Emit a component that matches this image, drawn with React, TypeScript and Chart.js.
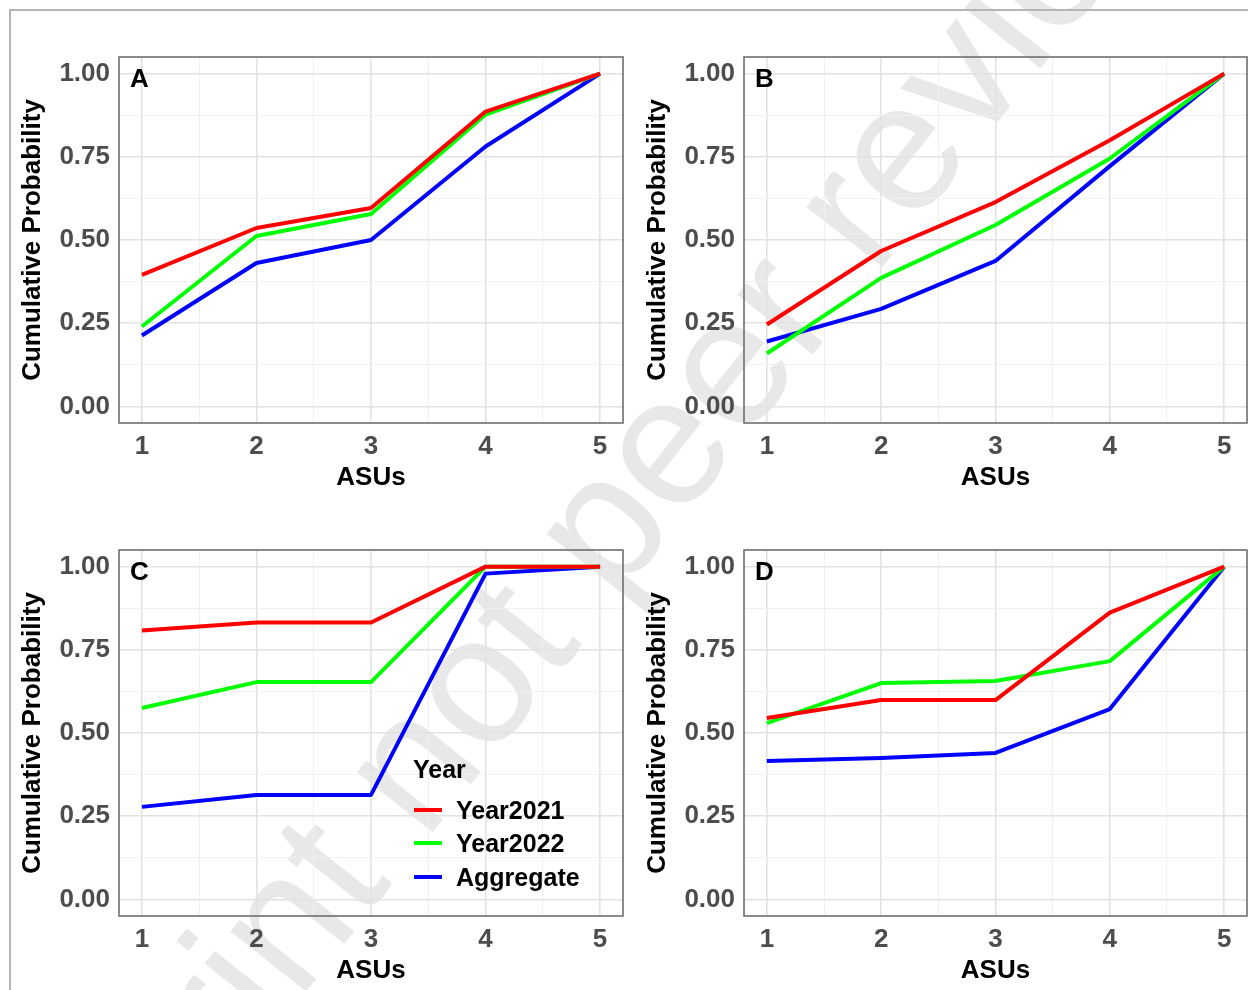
import React, { useEffect, useRef } from "react";
import { Chart, registerables } from "chart.js";

Chart.register(...registerables);

// ---------- data ----------
const ASUS = [1, 2, 3, 4, 5];
const X_MINOR = [1.5, 2.5, 3.5, 4.5];
const Y_MAJOR = [0, 0.25, 0.5, 0.75, 1];
const Y_MINOR = [0.125, 0.375, 0.625, 0.875];
const SERIES_NAMES = ["Year2021", "Year2022", "Aggregate"];
const SERIES_COLORS = ["#ff0000", "#00ff00", "#0000ff"];
const LEGEND_TITLE = "Year";
const X_TITLE = "ASUs";
const Y_TITLE = "Cumulative Probability";
const WATERMARK = "Preprint not peer reviewed";

const A_2021 = [0.395, 0.536, 0.596, 0.886, 1.0];
const A_2022 = [0.24, 0.512, 0.578, 0.877, 1.0];
const A_AGG = [0.213, 0.431, 0.5, 0.781, 1.0];

const B_2021 = [0.246, 0.467, 0.614, 0.8, 1.0];
const B_2022 = [0.159, 0.386, 0.545, 0.745, 1.0];
const B_AGG = [0.195, 0.293, 0.437, 0.722, 1.0];

const C_2021 = [0.808, 0.832, 0.832, 1.0, 1.0];
const C_2022 = [0.575, 0.653, 0.653, 1.0, 1.0];
const C_AGG = [0.278, 0.314, 0.314, 0.979, 1.0];

const D_2021 = [0.545, 0.599, 0.599, 0.862, 1.0];
const D_2022 = [0.53, 0.65, 0.656, 0.716, 1.0];
const D_AGG = [0.416, 0.425, 0.44, 0.572, 1.0];

// ---------- layout ----------
const FONT = '"Liberation Sans", Arial, sans-serif';
const PANELS = [
  { letter: "A", series: [A_2021, A_2022, A_AGG], left: 0, top: 40, width: 630, padRight: 7 },
  { letter: "B", series: [B_2021, B_2022, B_AGG], left: 625, top: 40, width: 623, padRight: 1 },
  { letter: "C", series: [C_2021, C_2022, C_AGG], left: 0, top: 533, width: 630, padRight: 7 },
  { letter: "D", series: [D_2021, D_2022, D_AGG], left: 625, top: 533, width: 623, padRight: 1 },
];

const framePlugin = (letter: string) => ({
  id: "frame" + letter,
  afterDraw(chart: any) {
    const { ctx, chartArea: a } = chart;
    ctx.save();
    ctx.strokeStyle = "#6e6e6e";
    ctx.lineWidth = 1.6;
    ctx.strokeRect(a.left, a.top, a.right - a.left, a.bottom - a.top);
    ctx.fillStyle = "#000";
    ctx.font = `bold 26px ${FONT}`;
    ctx.textBaseline = "alphabetic";
    ctx.textAlign = "left";
    ctx.fillText(letter, a.left + 11, a.top + 30);
    ctx.restore();
  },
});

function Panel(props: any) {
  const { letter, series, left, top, width, padRight } = props;
  const ref = useRef<HTMLCanvasElement>(null);
  useEffect(() => {
    const tickFont = { family: FONT, size: 26, weight: "bold" as const, lineHeight: 1 };
    const chart = new Chart(ref.current!, {
      type: "line",
      data: {
        datasets: series.map((vals: number[], i: number) => ({
          label: SERIES_NAMES[i],
          data: ASUS.map((x, j) => ({ x, y: vals[j] })),
          borderColor: SERIES_COLORS[i],
          backgroundColor: SERIES_COLORS[i],
          borderWidth: 4,
          pointRadius: 0,
          tension: 0,
          fill: false,
          borderJoinStyle: "round",
        })),
      },
      options: {
        responsive: false,
        animation: false,
        events: [],
        layout: { padding: { left: 0, top: 17, right: padRight, bottom: 0 } },
        plugins: { legend: { display: false }, tooltip: { enabled: false } },
        scales: {
          x: {
            type: "linear",
            min: 0.8,
            max: 5.2,
            afterBuildTicks: (s: any) => {
              s.ticks = [...ASUS, ...X_MINOR].sort((a, b) => a - b).map((v) => ({ value: v }));
            },
            afterFit: (s: any) => {
              s.height = 77;
              s.paddingLeft = 0;
              s.paddingRight = 0;
            },
            border: { display: false },
            grid: {
              drawTicks: false,
              color: (c: any) => (c.tick && Number.isInteger(c.tick.value) ? "#e2e2e2" : "#f0f0f0"),
              lineWidth: (c: any) => (c.tick && Number.isInteger(c.tick.value) ? 1.6 : 1),
            },
            ticks: {
              autoSkip: false,
              maxRotation: 0,
              padding: 11,
              color: "#4d4d4d",
              font: tickFont,
              callback: (v: any) => (ASUS.includes(v) ? String(v) : ""),
            },
            title: {
              display: true,
              text: X_TITLE,
              color: "#000",
              font: tickFont,
              padding: { top: 0, bottom: 9 },
            },
          },
          y: {
            type: "linear",
            min: -0.05,
            max: 1.05,
            afterBuildTicks: (s: any) => {
              s.ticks = [...Y_MAJOR, ...Y_MINOR].sort((a, b) => a - b).map((v) => ({ value: v }));
            },
            afterFit: (s: any) => {
              s.width = 119;
              s.paddingTop = 0;
              s.paddingBottom = 0;
            },
            border: { display: false },
            grid: {
              drawTicks: false,
              color: (c: any) => (c.tick && Y_MAJOR.includes(c.tick.value) ? "#e2e2e2" : "#f0f0f0"),
              lineWidth: (c: any) => (c.tick && Y_MAJOR.includes(c.tick.value) ? 1.6 : 1),
            },
            ticks: {
              autoSkip: false,
              padding: 9,
              color: "#4d4d4d",
              font: tickFont,
              callback: (v: any) => (Y_MAJOR.includes(v) ? Number(v).toFixed(2) : ""),
            },
            title: {
              display: true,
              text: Y_TITLE,
              color: "#000",
              font: tickFont,
              padding: { top: 20, bottom: 0 },
            },
          },
        },
      },
      plugins: [framePlugin(letter)],
    });
    return () => chart.destroy();
  }, []);
  return (
    <canvas
      ref={ref}
      width={width}
      height={460}
      style={{ position: "absolute", left, top, width, height: 460 }}
    />
  );
}

function Legend() {
  const rowTops = [810, 843, 877];
  return (
    <>
      <div
        style={{
          position: "absolute",
          left: 413,
          top: 757,
          font: `bold 25px ${FONT}`,
          lineHeight: "25px",
          color: "#000",
          whiteSpace: "nowrap",
        }}
      >
        {LEGEND_TITLE}
      </div>
      {SERIES_NAMES.map((name, i) => (
        <React.Fragment key={name}>
          <div
            style={{
              position: "absolute",
              left: 414,
              top: rowTops[i] - 2,
              width: 28,
              height: 4,
              background: SERIES_COLORS[i],
            }}
          />
          <div
            style={{
              position: "absolute",
              left: 456,
              top: rowTops[i] - 12,
              font: `bold 25px ${FONT}`,
              lineHeight: "25px",
              color: "#000",
              whiteSpace: "nowrap",
            }}
          >
            {name}
          </div>
        </React.Fragment>
      ))}
    </>
  );
}

export default function App() {
  return (
    <div
      style={{
        position: "absolute",
        left: 0,
        top: 0,
        width: 1248,
        height: 990,
        overflow: "hidden",
        background: "#fff",
      }}
    >
      <div
        style={{
          position: "absolute",
          left: -127,
          top: 1287,
          transformOrigin: "0 0",
          transform: "rotate(-51.5deg)",
          font: `183px ${FONT}`,
          lineHeight: "183px",
          color: "#e8e8e8",
          whiteSpace: "nowrap",
        }}
      >
        {WATERMARK}
      </div>
      <div
        style={{
          position: "absolute",
          left: 9,
          top: 9,
          width: 1400,
          height: 1200,
          border: "2px solid #b5b5b5",
        }}
      />
      {PANELS.map((p) => (
        <Panel key={p.letter} {...p} />
      ))}
      <Legend />
    </div>
  );
}
